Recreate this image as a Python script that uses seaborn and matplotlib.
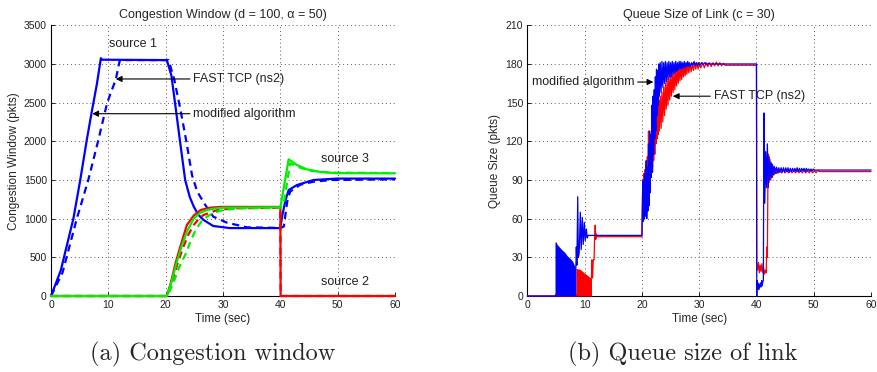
import matplotlib
matplotlib.use("Agg")
import matplotlib.pyplot as plt
import seaborn as sns
import pandas as pd

# ---------------- data: congestion window (left) ----------------
# (time s, window pkts)
src1_mod = [(0, 0), (1.7, 330), (3.9, 1000), (5.1, 1500), (6.2, 2000), (7.1, 2380),
            (8.0, 2740), (8.7, 3075), (8.9, 3055), (20.2, 3050), (21.0, 2850),
            (21.8, 2400), (22.5, 2000), (23.4, 1500), (24.2, 1280), (24.9, 1155),
            (25.7, 1050), (26.6, 983), (28.3, 905), (31.2, 878), (40.0, 878),
            (40.3, 1026), (40.9, 1241), (41.45, 1370), (42.9, 1435), (45.8, 1500),
            (49.9, 1518), (60, 1518)]
src1_fast = [(0, 0), (2.0, 300), (4.5, 1000), (6.5, 1500), (8.2, 2000), (9.8, 2500),
             (11.3, 2800), (12.0, 3050), (20.5, 3050), (21.5, 2800), (22.6, 2400),
             (23.6, 2000), (24.6, 1560), (25.5, 1350), (26.9, 1177), (28.3, 1026),
             (30.7, 948), (34.2, 888), (40.0, 880), (40.6, 897), (41.2, 1220),
             (41.7, 1350), (43.5, 1440), (45.8, 1478), (49.0, 1500), (60, 1508)]
src2_mod = [(0, 0), (20.2, 0), (20.9, 170), (21.7, 420), (22.55, 638), (23.7, 918),
            (24.9, 1040), (26.1, 1112), (27.8, 1142), (29.6, 1152), (40.0, 1152),
            (40.05, 0), (60, 0)]
src2_fast = [(0, 0), (20.3, 0), (21.2, 200), (22.2, 450), (23.1, 638), (24.0, 800),
             (24.9, 918), (25.8, 1000), (26.6, 1047), (29.0, 1112), (31.9, 1134),
             (40.0, 1140), (40.05, 0), (60, 0)]
src3_mod = [(0, 0), (20.2, 0), (21.0, 180), (21.9, 430), (22.8, 650), (23.7, 832),
            (24.9, 1004), (26.0, 1075), (27.2, 1112), (28.5, 1130), (30.0, 1142),
            (40.0, 1147), (41.45, 1767), (42.9, 1694), (44.6, 1638), (47.0, 1603),
            (49.9, 1588), (60, 1586)]
src3_fast = [(0, 0), (20.3, 0), (21.4, 180), (22.4, 380), (23.4, 530), (24.3, 700),
             (25.2, 853), (26.2, 960), (27.2, 1026), (28.4, 1075), (29.6, 1104),
             (32.5, 1134), (40.0, 1142), (40.6, 1199), (41.7, 1715), (42.9, 1672),
             (45.2, 1620), (48.7, 1595), (60, 1590)]

# ---------------- data: queue size (right) ----------------
# dense oscillation bands (time, upper envelope), lower edge 0
blue_band = [(4.83, 42), (5.0, 42), (5.2, 40), (5.6, 38), (6.0, 36), (6.5, 34),
             (7.0, 31), (7.5, 29), (7.9, 27), (8.2, 24), (8.47, 22)]
red_band = [(8.47, 21.5), (9.2, 20.7), (10.07, 17.5), (10.65, 15.5), (11.1, 13.7), (11.2, 13.5)]

queue_mod = [(0, 0), (4.83, 0), (8.47, 22), (8.55, 38), (8.65, 24), (8.8, 77), (8.9, 30),
             (9.05, 33), (9.25, 65), (9.4, 36), (9.6, 61), (9.75, 40), (9.95, 57),
             (10.1, 43), (10.3, 52), (10.45, 45), (10.6, 47), (20.0, 47),
             (20.05, 62), (20.15, 90), (20.25, 58), (20.35, 88), (20.45, 60), (20.55, 95),
             (20.65, 62), (20.75, 105), (20.85, 60), (20.95, 100), (21.05, 66), (21.15, 118),
             (21.25, 70), (21.35, 128), (21.45, 80), (21.55, 125), (21.65, 92), (21.75, 148),
             (21.85, 96), (21.95, 155), (22.05, 110), (22.15, 160), (22.25, 122), (22.35, 170),
             (22.45, 128), (22.55, 176), (22.65, 140), (22.75, 175), (22.85, 148), (22.95, 180),
             (23.05, 155), (23.2, 181), (23.35, 158), (23.5, 182), (23.65, 162), (23.8, 181),
             (23.95, 165), (24.1, 182), (24.25, 166), (24.4, 181), (24.55, 168), (24.7, 182),
             (24.85, 170), (25.0, 181), (25.15, 170), (25.3, 182), (25.45, 172), (25.6, 181),
             (25.75, 173), (25.9, 182), (26.05, 174), (26.2, 181), (26.35, 175), (26.5, 182),
             (26.65, 176), (26.8, 182), (26.95, 176), (27.1, 181), (27.25, 177), (27.4, 182),
             (27.55, 177), (27.7, 181), (27.85, 178), (28.0, 182), (28.15, 178), (28.3, 181),
             (28.5, 178), (28.7, 181), (28.9, 179), (29.1, 182), (29.3, 179), (29.5, 181),
             (29.7, 179), (29.9, 181), (30.1, 179), (30.4, 181), (30.7, 179.5), (31.0, 181),
             (31.3, 179.5), (31.6, 180.5), (32.0, 180), (40.0, 180),
             (40.05, 0), (40.1, 12), (40.2, 6), (40.3, 10), (40.4, 5), (40.5, 9), (40.6, 7),
             (40.7, 10), (40.8, 7), (40.9, 12), (41.0, 8), (41.1, 11), (41.2, 12),
             (41.3, 142), (41.45, 72), (41.6, 112), (41.75, 84), (41.9, 118), (42.05, 84),
             (42.2, 108), (42.35, 90), (42.5, 104), (42.65, 92), (42.8, 102), (42.95, 94),
             (43.1, 100.5), (43.3, 95), (43.5, 100), (43.7, 95.5), (43.9, 99.5), (44.1, 96),
             (44.3, 99.5), (44.5, 96), (44.7, 99.5), (44.9, 96), (45.1, 99.5), (45.3, 96.5),
             (45.5, 99.5), (45.7, 96), (45.9, 99), (46.1, 96.5), (46.3, 99), (46.5, 96.5),
             (46.7, 99), (46.9, 96.5), (47.1, 99.5), (47.3, 96.5), (47.5, 99), (47.7, 96.5),
             (47.9, 99), (48.1, 97), (48.3, 99), (48.5, 96.5), (48.7, 99), (48.9, 97),
             (49.1, 98.5), (49.3, 97), (49.5, 98.5), (49.7, 97), (49.9, 98.5), (50.1, 97.7),
             (60, 97.7)]

queue_fast = [(0, 0), (8.47, 0), (11.2, 14), (11.25, 28), (11.4, 14), (11.5, 28), (11.65, 28),
              (11.75, 46), (11.85, 55), (11.95, 44), (12.05, 48), (12.15, 46), (20.0, 46),
              (20.05, 60), (20.15, 88), (20.25, 62), (20.35, 95), (20.45, 66), (20.55, 98),
              (20.65, 70), (20.75, 102), (20.85, 75), (20.95, 108), (21.05, 85), (21.15, 128),
              (21.25, 90), (21.35, 125), (21.45, 92), (21.55, 120), (21.65, 96), (21.75, 128),
              (21.85, 100), (21.95, 135), (22.05, 105), (22.15, 138), (22.25, 110), (22.35, 140),
              (22.45, 118), (22.55, 145), (22.65, 122), (22.75, 150), (22.85, 125), (22.95, 152),
              (23.05, 128), (23.2, 155), (23.35, 130), (23.5, 158), (23.65, 135), (23.8, 162),
              (23.95, 140), (24.1, 165), (24.25, 145), (24.4, 168), (24.55, 148), (24.7, 170),
              (24.85, 152), (25.0, 171), (25.15, 155), (25.3, 172), (25.45, 158), (25.6, 174),
              (25.75, 160), (25.9, 175), (26.05, 163), (26.2, 176), (26.35, 165), (26.5, 177),
              (26.65, 167), (26.8, 178), (26.95, 168), (27.1, 178), (27.25, 170), (27.4, 179),
              (27.55, 171), (27.7, 179), (27.85, 172), (28.0, 180), (28.2, 173), (28.4, 180),
              (28.6, 174), (28.8, 180), (29.0, 175), (29.2, 181), (29.4, 176), (29.6, 181),
              (29.8, 176), (30.0, 181), (30.3, 177), (30.6, 181), (30.9, 177), (31.2, 181),
              (31.5, 178), (31.8, 181), (32.1, 178), (32.4, 181), (32.7, 178.5), (33.0, 181.5),
              (33.3, 178.5), (33.6, 181), (33.9, 178.5), (34.2, 180.5), (34.5, 179), (40.0, 179),
              (40.05, 25), (40.2, 20), (40.35, 26), (40.5, 18), (40.65, 24), (40.8, 19),
              (40.95, 25), (41.1, 18), (41.25, 22), (41.4, 17), (41.55, 20), (41.7, 18),
              (41.8, 38), (41.9, 30), (42.0, 95), (42.1, 110), (42.2, 88), (42.35, 106),
              (42.5, 90), (42.65, 103), (42.8, 92), (42.95, 100), (43.1, 94), (43.3, 99),
              (43.5, 95), (43.7, 98.5), (43.9, 95.5), (44.1, 98), (44.4, 95.5), (44.7, 98),
              (45.0, 95.5), (45.3, 97.5), (45.6, 95.5), (45.9, 97.5), (46.2, 95.5), (46.5, 97.5),
              (46.8, 95.5), (47.1, 97.5), (47.4, 95.5), (47.7, 97.5), (48.0, 95.5), (48.3, 97.5),
              (48.6, 95.5), (48.9, 97.5), (49.2, 95.5), (49.5, 97.5), (49.8, 95.5), (50.1, 97.5),
              (50.4, 95.5), (50.7, 97.5), (51.0, 96.5), (60, 96.5)]

cw_ticks_x = [0, 10, 20, 30, 40, 50, 60]
cw_ticks_y = [0, 500, 1000, 1500, 2000, 2500, 3000, 3500]
q_ticks_y = [0, 30, 60, 90, 120, 150, 180, 210]

# ---------------- style ----------------
sns.set_theme(style="white")
plt.rcParams["font.family"] = ["Liberation Sans", "DejaVu Sans"]
plt.rcParams["axes.edgecolor"] = "black"
plt.rcParams["axes.linewidth"] = 0.8

fig = plt.figure(figsize=(8.78, 3.72), dpi=100)
ax1 = fig.add_axes([0.0581, 0.2043, 0.3918, 0.7277])
ax2 = fig.add_axes([0.6006, 0.2043, 0.3915, 0.7277])

BLUE, RED, GREEN = "#0000ff", "#ff0000", "#00ee00"
DASH = (0, (3.2, 2.2))


def draw(ax, pts, color, ls="-", lw=1.6):
    df = pd.DataFrame(pts, columns=["t", "v"])
    sns.lineplot(data=df, x="t", y="v", ax=ax, color=color, linestyle=ls, lw=lw,
                 estimator=None, sort=False, legend=False, clip_on=False, zorder=3)


# left panel
draw(ax1, src1_mod, BLUE)
draw(ax1, src1_fast, BLUE, DASH)
draw(ax1, src2_mod, RED)
draw(ax1, src2_fast, RED, DASH)
draw(ax1, src3_fast, GREEN, DASH)
draw(ax1, src3_mod, GREEN)

# right panel
rb = pd.DataFrame(red_band, columns=["t", "v"])
bb = pd.DataFrame(blue_band, columns=["t", "v"])
ax2.fill_between(rb["t"], 0, rb["v"], color=RED, lw=0, zorder=3)
draw(ax2, queue_fast, RED, lw=0.9)
ax2.fill_between(bb["t"], 0, bb["v"], color=BLUE, lw=0, zorder=3)
draw(ax2, queue_mod, BLUE, lw=0.9)

for ax, yt, ylab, title in [
        (ax1, cw_ticks_y, "Congestion Window (pkts)", "Congestion Window (d = 100, α = 50)"),
        (ax2, q_ticks_y, "Queue Size (pkts)", "Queue Size of Link (c = 30)")]:
    ax.set_xlim(0, 60)
    ax.set_ylim(yt[0], yt[-1])
    ax.set_xticks(cw_ticks_x)
    ax.set_yticks(yt)
    ax.grid(True, color="0.35", linestyle=(0, (1, 3)), lw=0.7)
    for s in ["top", "right"]:
        ax.spines[s].set_visible(False)
    ax.tick_params(direction="in", length=3, width=0.6, labelsize=7.5, pad=3,
                   left=True, bottom=True, colors="black", labelcolor="#222222")
    ax.set_xlabel("Time (sec)", fontsize=8.5, labelpad=2)
    ax.set_ylabel(ylab, fontsize=8.5, labelpad=3)
    ax.set_title(title, fontsize=9, pad=5)

# annotations left
ap = dict(arrowstyle="-|>", color="black", lw=0.8, mutation_scale=9, shrinkA=0, shrinkB=0)
ax1.text(10.2, 3258, "source 1", fontsize=9, va="center", color="#222222")
ax1.text(51.2, 1771, "source 3", fontsize=9, va="center", ha="center", color="#222222")
ax1.text(51.2, 185, "source 2", fontsize=9, va="center", ha="center", color="#222222")
ax1.annotate("FAST TCP (ns2)", xy=(11.3, 2806), xytext=(24.8, 2806), fontsize=9,
             va="center", ha="left", arrowprops=ap, color="#222222")
ax1.annotate("modified algorithm", xy=(7.2, 2357), xytext=(24.8, 2357), fontsize=9,
             va="center", ha="left", arrowprops=ap, color="#222222")

# annotations right
ax2.annotate("modified algorithm", xy=(22.0, 166), xytext=(0.8, 166), fontsize=9,
             va="center", ha="left", arrowprops=ap, color="#222222")
ax2.annotate("FAST TCP (ns2)", xy=(25.4, 155), xytext=(32.5, 155), fontsize=9,
             va="center", ha="left", arrowprops=ap, color="#222222")

# captions
fig.text(0.2425, 0.048, "(a) Congestion window", fontsize=17.5, family=["cmr10", "DejaVu Serif"],
         ha="center", va="center")
fig.text(0.778, 0.048, "(b) Queue size of link", fontsize=17.5, family=["cmr10", "DejaVu Serif"],
         ha="center", va="center")

fig.savefig("out.png", dpi=100)
